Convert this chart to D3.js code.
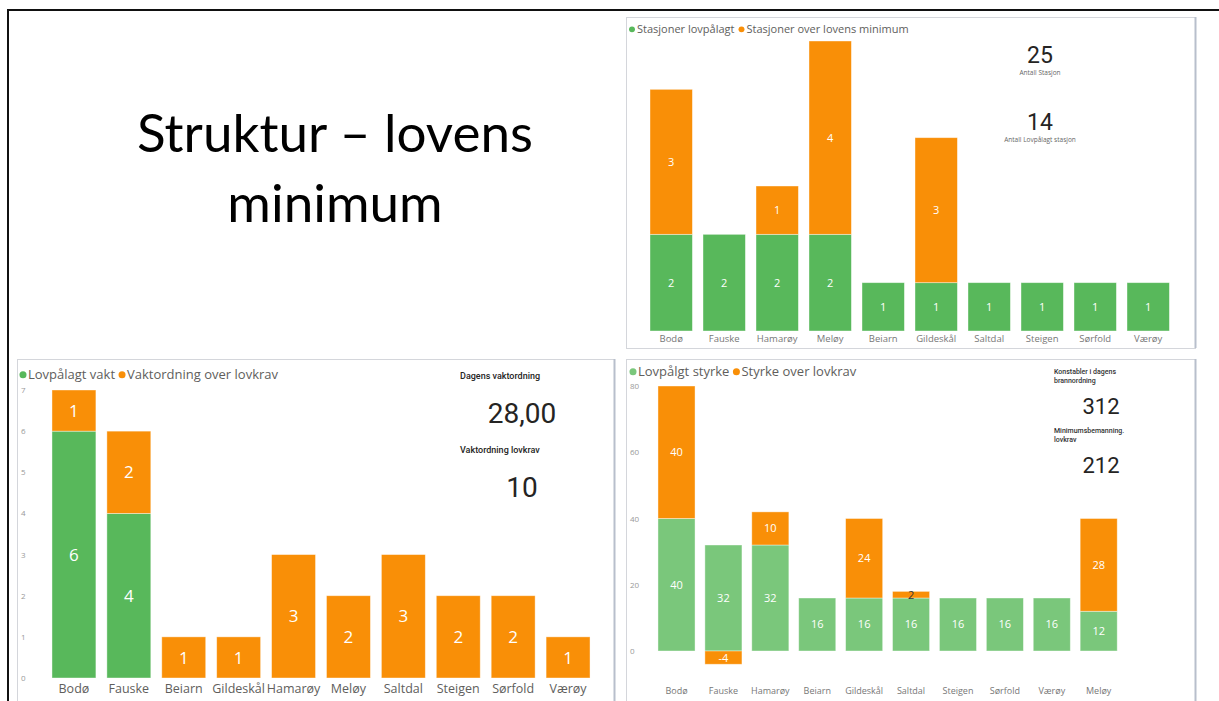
<!DOCTYPE html>
<html><head><meta charset="utf-8">
<script src="https://cdnjs.cloudflare.com/ajax/libs/d3/7.8.5/d3.min.js"></script>
<style>html,body{margin:0;padding:0;background:#fff;}svg{display:block;}</style>
</head><body>
<svg id="c" width="1219" height="701"></svg>
<script>
// ---- Data ----
const titleLines = ["Struktur – lovens", "minimum"];

const stasjonCats = ["Bodø","Fauske","Hamarøy","Meløy","Beiarn","Gildeskål","Saltdal","Steigen","Sørfold","Værøy"];
const stasjonLovpalagt = [2,2,2,2,1,1,1,1,1,1];
const stasjonOver = [3,0,1,4,0,3,0,0,0,0];
const stasjonLegend = ["Stasjoner lovpålagt","Stasjoner over lovens minimum"];
const stasjonKpi = [{value:"25", label:"Antall Stasjon"},{value:"14", label:"Antall Lovpålagt stasjon"}];

const vaktCats = ["Bodø","Fauske","Beiarn","Gildeskål","Hamarøy","Meløy","Saltdal","Steigen","Sørfold","Værøy"];
const vaktLovpalagt = [6,4,0,0,0,0,0,0,0,0];
const vaktOver = [1,2,1,1,3,2,3,2,2,1];
const vaktTicks = [0,1,2,3,4,5,6,7];
const vaktLegend = ["Lovpålagt vakt","Vaktordning over lovkrav"];
const vaktKpi = [{value:"28,00", label:"Dagens vaktordning"},{value:"10", label:"Vaktordning lovkrav"}];

const styrkeCats = ["Bodø","Fauske","Hamarøy","Beiarn","Gildeskål","Saltdal","Steigen","Sørfold","Værøy","Meløy"];
const styrkeLovpalagt = [40,32,32,16,16,16,16,16,16,12];
const styrkeOver = [40,-4,10,0,24,2,0,0,0,28];
const styrkeTicks = [0,20,40,60,80];
const styrkeLegend = ["Lovpålgt styrke","Styrke over lovkrav"];
const styrkeKpi = [{value:"312", label:["Konstabler i dagens","brannordning"]},{value:"212", label:["Minimumsbemanning.","lovkrav"]}];

// ---- Drawing ----
const svg = d3.select("#c");
const GREEN = "#58b85b", GREEN2 = "#7ac77b", ORANGE = "#f98f07";
const UI = "'Open Sans','Noto Sans',sans-serif";

// outer slide frame
svg.append("path").attr("d","M8,701 V10 H1219").attr("fill","none").attr("stroke","#111").attr("stroke-width",2);

// title
const t = svg.append("text").attr("x",335).attr("font-family","Lato,'Liberation Sans',sans-serif")
  .attr("font-size",53).attr("fill","#000").attr("text-anchor","middle");
titleLines.forEach((l,i)=>t.append("tspan").attr("x",335).attr("y",152+i*70).text(l));

// panels
[[626,17,569,331],[17,359,597,345],[626,359,569,345]].forEach(p=>{
  svg.append("rect").attr("x",p[0]+0.5).attr("y",p[1]+0.5).attr("width",p[2]).attr("height",p[3])
    .attr("fill","#fff").attr("stroke","#d4d6db").attr("stroke-width",1);
  svg.append("line").attr("x1",p[0]+p[2]+0.5).attr("x2",p[0]+p[2]+0.5).attr("y1",p[1]).attr("y2",p[1]+p[3])
    .attr("stroke","#b8bfcc").attr("stroke-width",2);
});

function legend(x, y, names, colors, size, gap){
  let cx = x;
  names.forEach((n,i)=>{
    svg.append("circle").attr("cx",cx+3).attr("cy",y-size*0.33).attr("r",size*0.27).attr("fill",colors[i]);
    const tx = svg.append("text").attr("x",cx+8).attr("y",y).attr("font-family",UI).attr("font-size",size)
      .attr("fill","#605e5c").text(n);
    cx += 8 + tx.node().getComputedTextLength() + gap;
  });
}

function stacked(o){
  const x = d3.scaleBand().domain(o.cats).range(o.xr).paddingInner(o.pi).paddingOuter(0.2);
  const y = d3.scaleLinear().domain(o.yd).range(o.yr);
  const g = svg.append("g");
  o.cats.forEach((c,i)=>{
    const segs = [{v:o.a[i], col:o.ca},{v:o.b[i], col:o.cb}];
    let pos = 0, neg = 0;
    segs.forEach(s=>{
      if(!s.v) return;
      let y0, y1;
      if(s.v>0){ y0 = pos; y1 = pos + s.v; pos = y1; } else { y0 = neg; y1 = neg + s.v; neg = y1; }
      const top = Math.min(y(y0),y(y1)), h = Math.abs(y(y0)-y(y1));
      g.append("rect").attr("x",x(c)).attr("y",top).attr("width",x.bandwidth()).attr("height",h)
        .attr("fill",s.col).attr("stroke","#fff").attr("stroke-opacity",0.5).attr("stroke-width",0.8);
      const small = h < o.lf*0.9;
      g.append("text").attr("x",x(c)+x.bandwidth()/2).attr("y",top+h/2).attr("dy","0.36em")
        .attr("text-anchor","middle").attr("font-family",UI).attr("font-size",o.lf)
        .attr("fill", small && s.v>0 ? "#333" : "#fff").text(s.v);
    });
    g.append("text").attr("x",x(c)+x.bandwidth()/2).attr("y",o.catY).attr("text-anchor","middle")
      .attr("font-family",UI).attr("font-size",o.cf).attr("fill",o.cc).text(c);
  });
  if(o.ticks){
    const ax = svg.append("g").attr("transform",`translate(${o.tickX},0)`)
      .call(d3.axisLeft(y).tickValues(o.ticks).tickFormat(d3.format("d")).tickSize(0).tickPadding(0));
    ax.select(".domain").remove();
    ax.selectAll("text").attr("text-anchor","start").attr("font-family",UI).attr("font-size",8).attr("fill","#999");
  }
}

// Top-right chart
legend(629,33,stasjonLegend,[GREEN,ORANGE],11,4);
stacked({cats:stasjonCats,a:stasjonLovpalagt,b:stasjonOver,ca:GREEN,cb:ORANGE,
  xr:[639.4,1180],pi:0.2,yd:[0,6],yr:[331,41],lf:11,catY:342,cf:9.5,cc:"#777"});
stasjonKpi.forEach((k,i)=>{
  svg.append("text").attr("x",1040).attr("y",63+i*67).attr("text-anchor","middle").attr("font-family","Roboto,sans-serif")
    .attr("font-size",23).attr("fill","#252423").text(k.value);
  svg.append("text").attr("x",1040).attr("y",75+i*67).attr("text-anchor","middle").attr("font-family",UI)
    .attr("font-size",6.5).attr("fill","#666").text(k.label);
});

// Bottom-left chart
legend(20,379,vaktLegend,[GREEN,ORANGE],13,4);
stacked({cats:vaktCats,a:vaktLovpalagt,b:vaktOver,ca:GREEN,cb:ORANGE,
  xr:[41,601],pi:0.2,yd:[0,7],yr:[678,390],lf:17,catY:693,cf:12.5,cc:"#605e5c",ticks:vaktTicks,tickX:21});
vaktKpi.forEach((k,i)=>{
  svg.append("text").attr("x",460).attr("y",379+i*74).attr("font-family","Roboto,sans-serif")
    .attr("font-size",9).attr("font-weight",500).attr("fill","#252423").text(k.label);
  svg.append("text").attr("x",522).attr("y",423+i*74).attr("text-anchor","middle").attr("font-family","Roboto,sans-serif")
    .attr("font-size",28).attr("fill","#252423").text(k.value);
});

// Bottom-right chart
legend(630,376,styrkeLegend,[GREEN2,ORANGE],13,4);
stacked({cats:styrkeCats,a:styrkeLovpalagt,b:styrkeOver,ca:GREEN2,cb:ORANGE,
  xr:[648.6,1126.6],pi:0.21,yd:[0,80],yr:[651,386],lf:11,catY:694,cf:9,cc:"#777",ticks:styrkeTicks,tickX:630});
styrkeKpi.forEach((k,i)=>{
  const tx = svg.append("text").attr("x",1054).attr("y",374+i*59).attr("font-family","Roboto,sans-serif")
    .attr("font-size",7).attr("font-weight",500).attr("fill","#333");
  k.label.forEach((l,j)=>tx.append("tspan").attr("x",1054).attr("y",374+i*59+j*9).text(l));
  svg.append("text").attr("x",1101).attr("y",414+i*59).attr("text-anchor","middle").attr("font-family","Roboto,sans-serif")
    .attr("font-size",22).attr("fill","#252423").text(k.value);
});
</script>
</body></html>
